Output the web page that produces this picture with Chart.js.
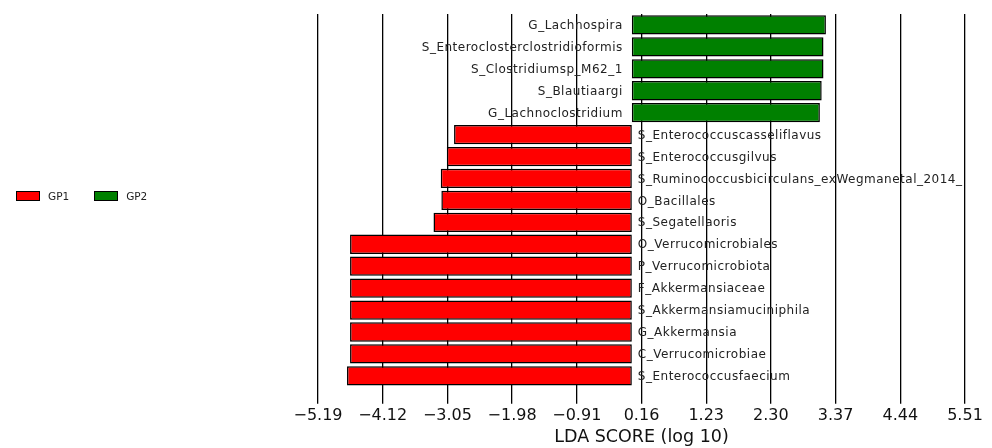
<!DOCTYPE html>
<html>
<head>
<meta charset="utf-8">
<script src="https://cdn.jsdelivr.net/npm/chart.js@4"></script>
<style>
  html, body { margin: 0; padding: 0; background: #fff; }
  #wrap { position: relative; width: 992px; height: 448px; }
  #legend { position: absolute; left: 16px; top: 190px; font: 10.5px "DejaVu Sans", sans-serif; color: #222; }
  #legend span.item { display: inline-block; margin-right: 25px; }
  #legend i { display: inline-block; width: 22px; height: 8px; border: 1px solid #000; vertical-align: -1px; margin-right: 8px; }
</style>
</head>
<body>
<div id="wrap">
  <canvas id="lda" width="992" height="448"></canvas>
  <div id="legend"></div>
</div>
<script>
// taxa, top to bottom
const categories = [
    'G_Lachnospira',
    'S_Enteroclosterclostridioformis',
    'S_Clostridiumsp_M62_1',
    'S_Blautiaargi',
    'G_Lachnoclostridium',
    'S_Enterococcuscasseliflavus',
    'S_Enterococcusgilvus',
    'S_Ruminococcusbicirculans_exWegmanetal_2014_',
    'O_Bacillales',
    'S_Segatellaoris',
    'O_Verrucomicrobiales',
    'P_Verrucomicrobiota',
    'F_Akkermansiaceae',
    'S_Akkermansiamuciniphila',
    'G_Akkermansia',
    'C_Verrucomicrobiae',
    'S_Enterococcusfaecium'
];

// LDA scores, GP1 drawn negative
const gp1Scores = [null, null, null, null, null, -2.94, -3.06, -3.16, -3.15, -3.28, -4.66, -4.66, -4.66, -4.66, -4.66, -4.66, -4.71];
const gp2Scores = [3.21, 3.17, 3.17, 3.14, 3.11, null, null, null, null, null, null, null, null, null, null, null, null];

const tickValues = [-5.19, -4.12, -3.05, -1.98, -0.91, 0.16, 1.23, 2.30, 3.37, 4.44, 5.51];

const groups = [
    { name: 'GP1', color: '#ff0000', data: gp1Scores },
    { name: 'GP2', color: '#008000', data: gp2Scores }
];

// legend
const legend = document.getElementById('legend');
groups.forEach(g => {
    const s = document.createElement('span');
    s.className = 'item';
    s.innerHTML = `<i style="background:${g.color}"></i>${g.name}`;
    legend.appendChild(s);
});

// names next to the zero line
const nameLabels = {
    id: 'nameLabels',
    afterDatasetsDraw(chart) {
        const ctx = chart.ctx;
        const x0 = chart.scales.x.getPixelForValue(0);
        ctx.save();
        ctx.font = '12px "DejaVu Sans", sans-serif';
        ctx.letterSpacing = '0.5px';
        ctx.fillStyle = '#222';
        ctx.textBaseline = 'middle';
        categories.forEach((name, i) => {
            const y = chart.scales.y.getPixelForValue(i) + 1;
            if (gp2Scores[i] != null) {
                ctx.textAlign = 'right';
                ctx.fillText(name, x0 - 9, y);
            } else {
                ctx.textAlign = 'left';
                ctx.fillText(name, x0 + 6, y);
            }
        });
        ctx.restore();
    }
};

new Chart(document.getElementById('lda'), {
    type: 'bar',
    data: {
        labels: categories,
        datasets: groups.map(g => ({
            label: g.name,
            data: g.data,
            backgroundColor: g.color,
            borderColor: '#000',
            borderWidth: 1.5,
            borderSkipped: false,
            grouped: false,
            barPercentage: 0.88,
            categoryPercentage: 1
        }))
    },
    options: {
        indexAxis: 'y',
        responsive: false,
        animation: false,
        layout: { padding: { left: 318, right: 27, top: 14, bottom: 0 } },
        plugins: { legend: { display: false }, tooltip: { enabled: false } },
        scales: {
            x: {
                min: -5.19,
                max: 5.51,
                z: 1,
                afterBuildTicks: axis => { axis.ticks = tickValues.map(v => ({ value: v })); },
                grid: { color: '#000', lineWidth: 1.3, tickLength: 17, tickColor: '#000', tickWidth: 1.3 },
                border: { display: false },
                ticks: {
                    padding: 2,
                    color: '#111',
                    maxRotation: 0,
                    autoSkip: false,
                    font: { family: 'DejaVu Sans', size: 16 },
                    callback: v => v.toFixed(2).replace('-', '\u2212')
                },
                title: {
                    display: true,
                    text: 'LDA SCORE (log 10)',
                    color: '#111',
                    padding: { top: 0, bottom: 0 },
                    font: { family: 'DejaVu Sans', size: 17.5 }
                }
            },
            y: { display: false }
        }
    },
    plugins: [nameLabels]
});
</script>
</body>
</html>
